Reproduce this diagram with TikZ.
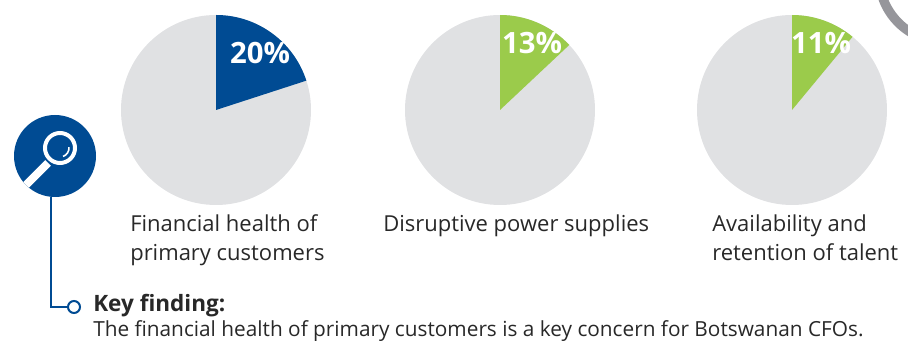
\documentclass[tikz,border=0pt]{standalone}
\usepackage{fontspec}
\setmainfont{Open Sans}
\definecolor{keyblue}{RGB}{0,75,147}
\definecolor{keygreen}{RGB}{155,203,75}
\definecolor{piegray}{RGB}{224,225,227}
\definecolor{textgray}{RGB}{40,40,40}
\definecolor{icongray}{RGB}{150,150,155}
\tikzset{
  pct/.style={text=white, font=\fontsize{22}{24}\selectfont\bfseries, inner sep=0},
  caption/.style={text=textgray, font=\fontsize{16.5}{21.75}\selectfont, align=left, anchor=base west, inner sep=0},
  leader/.style={keyblue, line width=1.5pt}
}
\begin{document}
\begin{tikzpicture}[x=0.75pt,y=0.75pt]
        \useasboundingbox (0,0) rectangle (908,346);

        \fill[piegray] (216,236) circle (95);
        \fill[keyblue] (216,236) -- (216,331) arc (90:18:95) -- cycle;
        \node[pct] at (260,293) (p1) {20\%};

        \fill[piegray] (500,236) circle (95);
        \fill[keygreen] (500,236) -- (500,331) arc (90:43.2:95) -- cycle;
        \node[pct] at (532,303) (p2) {13\%};

        \fill[piegray] (792,236) circle (95);
        \fill[keygreen] (792,236) -- (792,331) arc (90:50.4:95) -- cycle;
        \node[pct] at (821,303) (p3) {11\%};

        \draw[icongray, line width=7pt] (945,370) ++(190:66) arc (190:250:66);

        \node[caption] at (130,85) (c1) {Financial health of\\primary customers};
        \node[caption] at (383,114) (c2) {Disruptive power supplies};
        \node[caption] at (712,85) (c3) {Availability and\\retention of talent};

        \node[circle, fill=keyblue, minimum size=61.5pt, inner sep=0] at (55,190) (icon) {};
        \begin{scope}
          \clip (55,190) circle (41);
          \draw[white, line width=6pt] (48,183) -- (20,155);
        \end{scope}
        \draw[white, line width=3pt] (60,198) circle (15);
        \draw[white, line width=1.2pt] (60,198) ++(-70:9) arc (-70:5:9);
        \node[circle, draw=keyblue, line width=1.5pt, minimum size=9pt, inner sep=0] at (74,39) (dot) {};
        \coordinate (bend) at (51,39);
        \draw[leader] (icon.south -| bend) -- (bend) -- (dot.west);

        \node[text=textgray, font=\fontsize{16.9}{20}\selectfont\bfseries, anchor=base west, inner sep=0] at (93,34) (kf) {Key finding:};
        \node[text=textgray, font=\fontsize{15.6}{18}\selectfont, anchor=base west, inner sep=0] at (93,9) (kt) {The financial health of primary customers is a key concern for Botswanan CFOs.};
    \end{tikzpicture}
\end{document}
